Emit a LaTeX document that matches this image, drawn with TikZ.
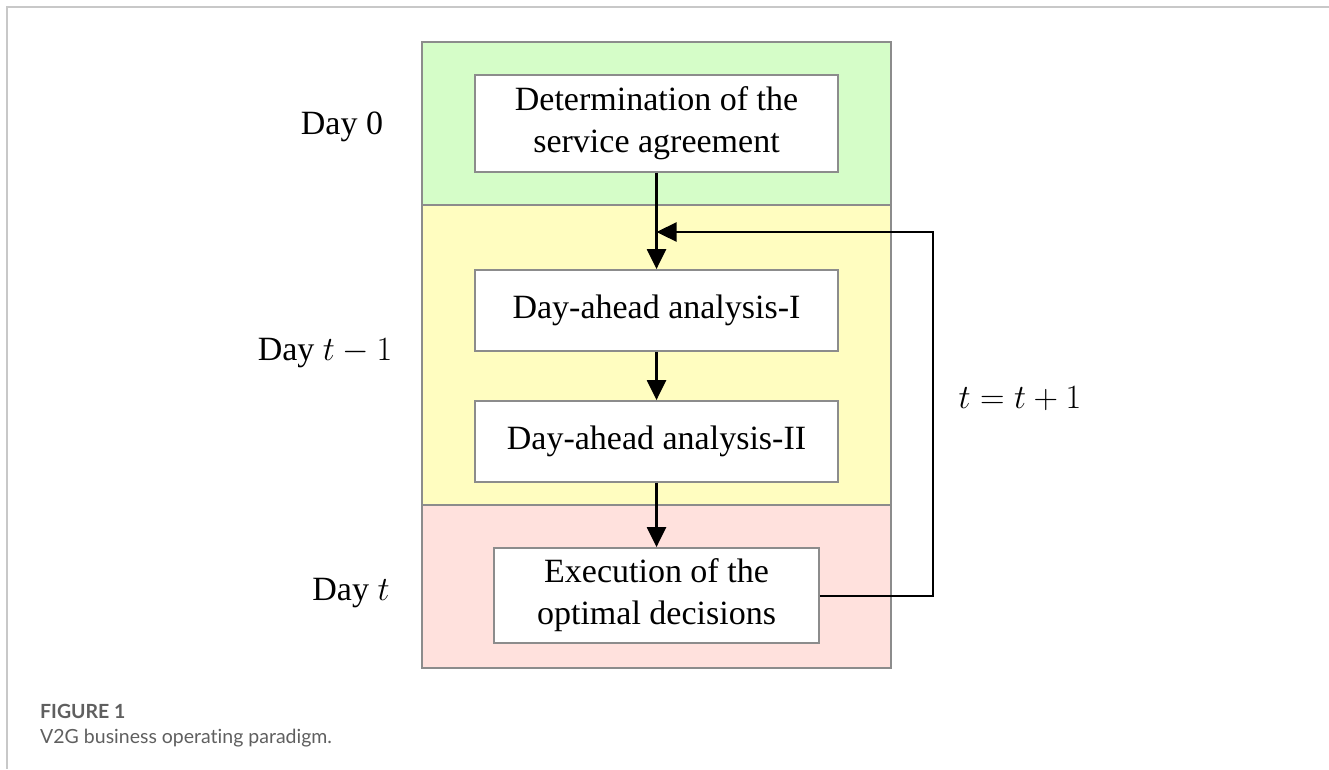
\RequirePackage{fix-cm}
\documentclass[tikz,border=0pt]{standalone}
\usepackage{fontspec}
\setmainfont{Liberation Serif}
\newfontfamily\capfont[Ligatures=NoCommon]{Lato}
\usetikzlibrary{arrows.meta}
\definecolor{bandgreen}{HTML}{D5FDC8}
\definecolor{bandyellow}{HTML}{FFFDC0}
\definecolor{bandpink}{HTML}{FFE1DD}
\definecolor{edgegray}{HTML}{8C8C8C}
\definecolor{framegray}{HTML}{C8C8C8}
\definecolor{capgray}{HTML}{5F5F5F}
\tikzset{
  band/.style={draw=edgegray, line width=1.8pt},
  stepbox/.style={draw=edgegray, fill=white, line width=1.8pt, align=center, inner sep=0pt,
    font=\fontsize{34}{42}\selectfont},
  daylabel/.style={font=\fontsize{34}{40}\selectfont, anchor=center},
  flow/.style={draw=black, line width=2.4pt, -{Triangle[length=20pt,width=19pt]}},
  captext/.style={anchor=base west, inner sep=0pt, text=capgray},
}
\begin{document}
\begin{tikzpicture}[x=1pt,y=-1pt]
\useasboundingbox (0,0) rectangle (1329,769);
% frame
\draw[framegray, line width=1.6pt] (1329,7) -- (7,7) -- (7,769);
% bands
\draw[band, fill=bandgreen] (422,42) rectangle (891,205);
\draw[band, fill=bandyellow] (422,205) rectangle (891,505);
\draw[band, fill=bandpink] (422,505) rectangle (891,668);
% boxes
\node[stepbox, minimum width=363pt, minimum height=97pt] (b1) at (656.5,123.5) {Determination of the\\service agreement};
\node[stepbox, minimum width=363pt, minimum height=81pt] (b2) at (656.5,310.5) {Day-ahead analysis-I};
\node[stepbox, minimum width=363pt, minimum height=81pt] (b3) at (656.5,441.5) {Day-ahead analysis-II};
\node[stepbox, minimum width=325pt, minimum height=95pt] (b4) at (656.5,595.5) {Execution of the\\optimal decisions};
% day labels
\node[daylabel] (d0) at (342,127) {Day 0};
\node[daylabel] (d1) at (325,353) {Day $t-1$};
\node[daylabel] (d2) at (351,593) {Day $t$};
\node[daylabel] (tl) at (1020,399) {$t=t+1$};
% arrows
\coordinate (j) at (656.5,232);
\coordinate (c1) at (933,596);
\coordinate (c2) at (933,232);
\draw[flow] (b1.south) -- (b2.north);
\draw[flow] (b2.south) -- (b3.north);
\draw[flow] (b3.south) -- (b4.north);
\draw[flow] (b4.east |- c1) -- (c1) -- (c2) -- (j);
% caption
\node[captext, font=\capfont\bfseries\fontsize{19.5}{24}\selectfont] (cap1) at (40,718) {FIGURE 1};
\node[captext, font=\capfont\fontsize{19.5}{24}\selectfont] (cap2) at (40,743) {V2G business operating paradigm.};
\end{tikzpicture}
\end{document}
